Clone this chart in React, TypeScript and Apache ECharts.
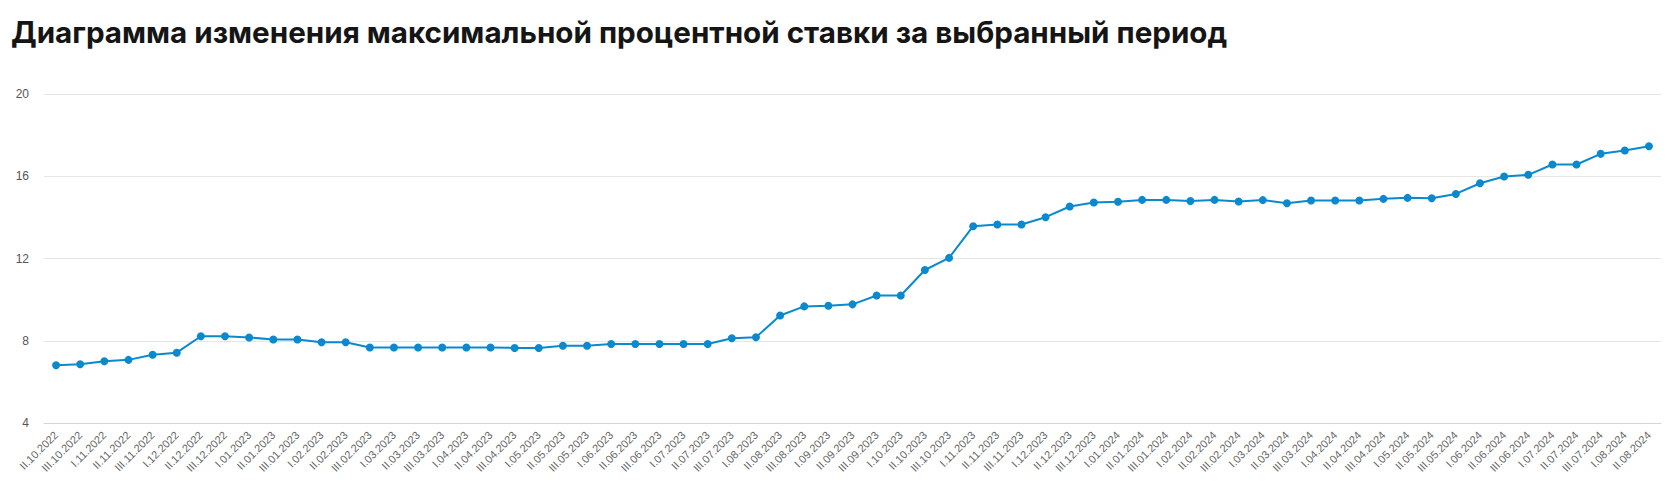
import React, { useEffect, useRef } from "react";
import * as echarts from "echarts";

const title = "Диаграмма изменения максимальной процентной ставки за выбранный период";

const decades = ["I", "II", "III"];
const months: string[] = [
  "10.2022", "11.2022", "12.2022",
  "01.2023", "02.2023", "03.2023", "04.2023", "05.2023", "06.2023",
  "07.2023", "08.2023", "09.2023", "10.2023", "11.2023", "12.2023",
  "01.2024", "02.2024", "03.2024", "04.2024", "05.2024", "06.2024",
  "07.2024", "08.2024",
];
const allCategories: string[] = [];
months.forEach((m) => decades.forEach((d) => allCategories.push(`${d}.${m}`)));
// from II.10.2022 to II.08.2024
const categories = allCategories.slice(1, allCategories.length - 1);

const rates = [
  6.81, 6.86, 7.0, 7.07, 7.32, 7.42, 8.22, 8.22, 8.16, 8.06,
  8.06, 7.93, 7.93, 7.67, 7.67, 7.67, 7.67, 7.67, 7.67, 7.65,
  7.65, 7.76, 7.76, 7.84, 7.84, 7.84, 7.84, 7.84, 8.12, 8.17,
  9.23, 9.67, 9.70, 9.77, 10.2, 10.2, 11.44, 12.03, 13.57, 13.65,
  13.65, 14.01, 14.53, 14.72, 14.76, 14.85, 14.85, 14.8, 14.85, 14.77,
  14.84, 14.69, 14.82, 14.82, 14.82, 14.9, 14.95, 14.93, 15.14, 15.66,
  15.99, 16.07, 16.57, 16.57, 17.09, 17.25, 17.46,
];

const yMin = 4;
const yMax = 20;
const yStep = 4;

export default function App() {
  const ref = useRef<HTMLDivElement>(null);
  useEffect(() => {
    if (!ref.current) return;
    const chart = echarts.init(ref.current, undefined, { renderer: "svg" });
    chart.setOption({
      animation: false,
      backgroundColor: "#ffffff",
      title: {
        text: title,
        left: 6,
        top: 12,
        textStyle: {
          fontFamily: "Inter",
          fontWeight: 700,
          fontSize: 29.6,
          color: "#151515",
        },
      },
      grid: { left: 44, right: 9, top: 94, bottom: 75, containLabel: false },
      xAxis: {
        type: "category",
        data: categories,
        boundaryGap: true,
        axisLine: { lineStyle: { color: "#ccd6eb" } },
        axisTick: { show: false },
        axisLabel: {
          interval: 0,
          rotate: 45,
          margin: 10,
          fontSize: 11,
          fontFamily: "Liberation Sans",
          color: "#666666",
        },
      },
      yAxis: {
        type: "value",
        min: yMin,
        max: yMax,
        interval: yStep,
        axisLine: { show: false },
        axisTick: { show: false },
        splitLine: { lineStyle: { color: "#e6e6e6" } },
        axisLabel: {
          margin: 15,
          fontSize: 12,
          fontFamily: "Liberation Sans",
          color: "#555555",
        },
      },
      series: [
        {
          type: "line",
          data: rates,
          symbol: "circle",
          symbolSize: 8,
          lineStyle: { color: "#0a89cf", width: 2 },
          itemStyle: { color: "#0a89cf" },
        },
      ],
    });
    return () => chart.dispose();
  }, []);
  return (
    <div
      ref={ref}
      style={{ position: "absolute", left: 0, top: 0, width: 1670, height: 498 }}
    />
  );
}
